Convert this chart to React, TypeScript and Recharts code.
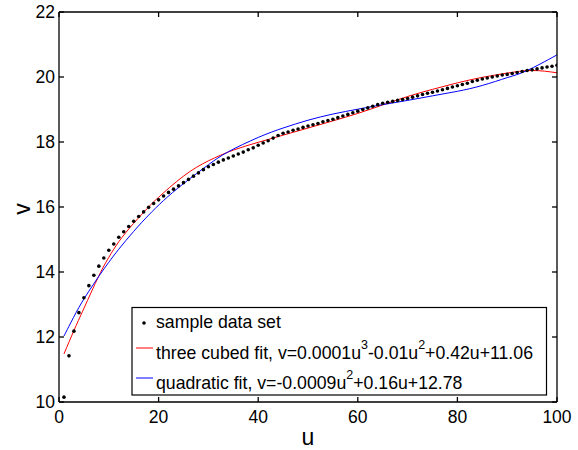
import React from 'react';
import { ComposedChart, Line, XAxis, YAxis } from 'recharts';

const uValues = [
  1, 2, 3, 4, 5, 6, 7, 8, 9, 10, 11, 12, 13, 14, 15, 16, 17, 18, 19, 20,
  21, 22, 23, 24, 25, 26, 27, 28, 29, 30, 31, 32, 33, 34, 35, 36, 37, 38, 39, 40,
  41, 42, 43, 44, 45, 46, 47, 48, 49, 50, 51, 52, 53, 54, 55, 56, 57, 58, 59, 60,
  61, 62, 63, 64, 65, 66, 67, 68, 69, 70, 71, 72, 73, 74, 75, 76, 77, 78, 79, 80,
  81, 82, 83, 84, 85, 86, 87, 88, 89, 90, 91, 92, 93, 94, 95, 96, 97, 98, 99, 100,
];

const sampleV = [
  10.15, 11.42, 12.18, 12.75, 13.21, 13.58, 13.9, 14.18, 14.43, 14.67,
  14.86, 15.07, 15.24, 15.4, 15.56, 15.71, 15.85, 15.99, 16.11, 16.22,
  16.34, 16.45, 16.55, 16.65, 16.75, 16.85, 16.95, 17.05, 17.15, 17.24,
  17.31, 17.38, 17.45, 17.51, 17.57, 17.63, 17.69, 17.76, 17.82, 17.9,
  17.97, 18.04, 18.12, 18.2, 18.27, 18.31, 18.36, 18.4, 18.45, 18.49,
  18.53, 18.57, 18.62, 18.66, 18.7, 18.75, 18.8, 18.85, 18.9, 18.95,
  19.0, 19.05, 19.1, 19.15, 19.19, 19.22, 19.25, 19.28, 19.31, 19.34,
  19.38, 19.42, 19.46, 19.5, 19.53, 19.57, 19.61, 19.65, 19.69, 19.73,
  19.77, 19.81, 19.86, 19.9, 19.94, 19.97, 20.0, 20.03, 20.06, 20.08,
  20.11, 20.14, 20.17, 20.2, 20.22, 20.25, 20.28, 20.31, 20.33, 20.36,
];

const cubicU = [1, 3, 5, 8, 10, 12, 15, 18, 20, 25, 30, 35, 40, 45, 50, 55, 60, 65, 70, 75, 80, 85, 90, 95, 100];
const cubicV = [11.48, 12.2, 12.88, 13.88, 14.45, 14.93, 15.5, 16.0, 16.3, 16.95, 17.42, 17.75, 17.99, 18.21, 18.43, 18.65, 18.88, 19.14, 19.4, 19.62, 19.82, 19.99, 20.12, 20.2, 20.13];

const quadU = [1, 2, 4, 6, 8, 10, 12, 15, 18, 21, 25, 30, 34, 40, 45, 50, 55, 60, 65, 70, 75, 80, 85, 90, 94, 100];
const quadV = [12.03, 12.33, 12.91, 13.41, 13.87, 14.3, 14.7, 15.25, 15.75, 16.2, 16.72, 17.3, 17.7, 18.14, 18.43, 18.67, 18.86, 19.01, 19.15, 19.28, 19.42, 19.56, 19.74, 19.98, 20.2, 20.68];

const xTicks = [0, 20, 40, 60, 80, 100];
const yTicks = [10, 12, 14, 16, 18, 20, 22];

const legendSample = 'sample data set';
const legendCubic = ['three cubed fit, v=0.0001u', '3', '-0.01u', '2', '+0.42u+11.06'];
const legendQuad = ['quadratic fit, v=-0.0009u', '2', '+0.16u+12.78'];

const tableRows = uValues.map((u, i) => {
  const ci = cubicU.indexOf(u);
  const qi = quadU.indexOf(u);
  return {
    u,
    sample: sampleV[i],
    cubic: ci >= 0 ? cubicV[ci] : null,
    quad: qi >= 0 ? quadV[qi] : null,
  };
});

const FONT = '"Liberation Sans", Arial, Helvetica, sans-serif';
const TICK_LEN = 5;
const TICK_FS = 17.5;
const AX_W = 1.3;

const BottomTick = (props: any) => {
  const { x, y, payload } = props;
  const ay = y - 9;
  return (
    <g>
      <line x1={x} x2={x} y1={ay} y2={ay - TICK_LEN} stroke="#000" strokeWidth={AX_W} />
      <text x={x} y={y} dy="0.71em" textAnchor="middle" fontSize={TICK_FS} fontFamily={FONT} fill="#000">
        {payload.value}
      </text>
    </g>
  );
};

const LeftTick = (props: any) => {
  const { x, y, payload } = props;
  const ax = x + 4;
  return (
    <g>
      <line x1={ax} x2={ax + TICK_LEN} y1={y} y2={y} stroke="#000" strokeWidth={AX_W} />
      <text x={x} y={y} dy="0.355em" textAnchor="end" fontSize={TICK_FS} fontFamily={FONT} fill="#000">
        {payload.value}
      </text>
    </g>
  );
};

const TopTick = (props: any) => {
  const { x, y } = props;
  return <line x1={x} x2={x} y1={y} y2={y + TICK_LEN} stroke="#000" strokeWidth={AX_W} />;
};

const RightTick = (props: any) => {
  const { x, y } = props;
  return <line x1={x} x2={x - TICK_LEN} y1={y} y2={y} stroke="#000" strokeWidth={AX_W} />;
};

const XLabel = (props: any) => {
  const vb = props.viewBox || { x: 59, y: 402, width: 498, height: 48 };
  const cx = vb.x + vb.width / 2;
  return (
    <text x={cx} y={vb.y + 43} textAnchor="middle" fontSize={23} fontFamily={FONT} fill="#000">
      u
    </text>
  );
};

const YLabel = (props: any) => {
  const vb = props.viewBox || { x: 0, y: 12, width: 59, height: 390 };
  const cx = vb.x + 30;
  const cy = vb.y + vb.height / 2 + 2;
  return (
    <text x={cx} y={cy} transform={`rotate(-90, ${cx}, ${cy})`} textAnchor="middle" fontSize={23} fontFamily={FONT} fill="#000">
      v
    </text>
  );
};

const Legend = () => (
  <svg width={578} height={450} style={{ position: 'absolute', left: 0, top: 0, pointerEvents: 'none' }}>
    <rect x={132} y={307.5} width={414.5} height={87.5} fill="#fff" stroke="#000" strokeWidth={1.2} />
    <circle cx={144} cy={323} r={1.8} fill="#000" />
    <text x={156} y={328} fontSize={17.7} fontFamily={FONT} fill="#000">{legendSample}</text>
    <line x1={136} x2={153} y1={348} y2={348} stroke="#ff0000" strokeWidth={1} />
    <text x={156} y={359} fontSize={17.7} fontFamily={FONT} fill="#000">
      {legendCubic[0]}
      <tspan dy={-10} fontSize={12.5}>{legendCubic[1]}</tspan>
      <tspan dy={10}>{legendCubic[2]}</tspan>
      <tspan dy={-10} fontSize={12.5}>{legendCubic[3]}</tspan>
      <tspan dy={10}>{legendCubic[4]}</tspan>
    </text>
    <line x1={136} x2={153} y1={378} y2={378} stroke="#0000ff" strokeWidth={1} />
    <text x={156} y={389} fontSize={17.7} fontFamily={FONT} fill="#000">
      {legendQuad[0]}
      <tspan dy={-10} fontSize={12.5}>{legendQuad[1]}</tspan>
      <tspan dy={10}>{legendQuad[2]}</tspan>
    </text>
  </svg>
);

export default function App() {
  return (
    <div style={{ position: 'absolute', left: 0, top: 0, width: 578, height: 450, background: '#fff' }}>
      <ComposedChart width={578} height={450} data={tableRows} margin={{ top: 11, right: 20, bottom: 0, left: 0 }}>
        <XAxis
          dataKey="u"
          type="number"
          domain={[0, 100]}
          ticks={xTicks}
          interval={0}
          height={48}
          tickSize={0}
          tickMargin={9}
          tickLine={false}
          axisLine={{ stroke: '#000', strokeWidth: AX_W }}
          tick={<BottomTick />}
          label={<XLabel />}
          allowDataOverflow
        />
        <XAxis
          xAxisId="top"
          dataKey="u"
          orientation="top"
          type="number"
          domain={[0, 100]}
          ticks={xTicks}
          interval={0}
          height={1}
          tickSize={0}
          tickMargin={0}
          tickLine={false}
          axisLine={{ stroke: '#000', strokeWidth: AX_W }}
          tick={<TopTick />}
          allowDataOverflow
        />
        <YAxis
          type="number"
          domain={[10, 22]}
          ticks={yTicks}
          interval={0}
          width={59}
          tickSize={0}
          tickMargin={4}
          tickLine={false}
          axisLine={{ stroke: '#000', strokeWidth: AX_W }}
          tick={<LeftTick />}
          label={<YLabel />}
          allowDataOverflow
        />
        <YAxis
          yAxisId="right"
          orientation="right"
          type="number"
          domain={[10, 22]}
          ticks={yTicks}
          interval={0}
          width={1}
          tickSize={0}
          tickMargin={0}
          tickLine={false}
          axisLine={{ stroke: '#000', strokeWidth: AX_W }}
          tick={<RightTick />}
          allowDataOverflow
        />
        <Line
          xAxisId="top"
          yAxisId="right"
          dataKey="sample"
          stroke="none"
          strokeWidth={0}
          dot={false}
          activeDot={false}
          legendType="none"
          isAnimationActive={false}
        />
        <Line
          dataKey="cubic"
          type="natural"
          stroke="#ff0000"
          strokeWidth={1}
          dot={false}
          activeDot={false}
          connectNulls
          isAnimationActive={false}
        />
        <Line
          dataKey="quad"
          type="natural"
          stroke="#0000ff"
          strokeWidth={1}
          dot={false}
          activeDot={false}
          connectNulls
          isAnimationActive={false}
        />
        <Line
          dataKey="sample"
          stroke="none"
          strokeWidth={0}
          dot={{ r: 1.8, fill: '#000', stroke: 'none' }}
          activeDot={false}
          isAnimationActive={false}
        />
      </ComposedChart>
      <Legend />
    </div>
  );
}
